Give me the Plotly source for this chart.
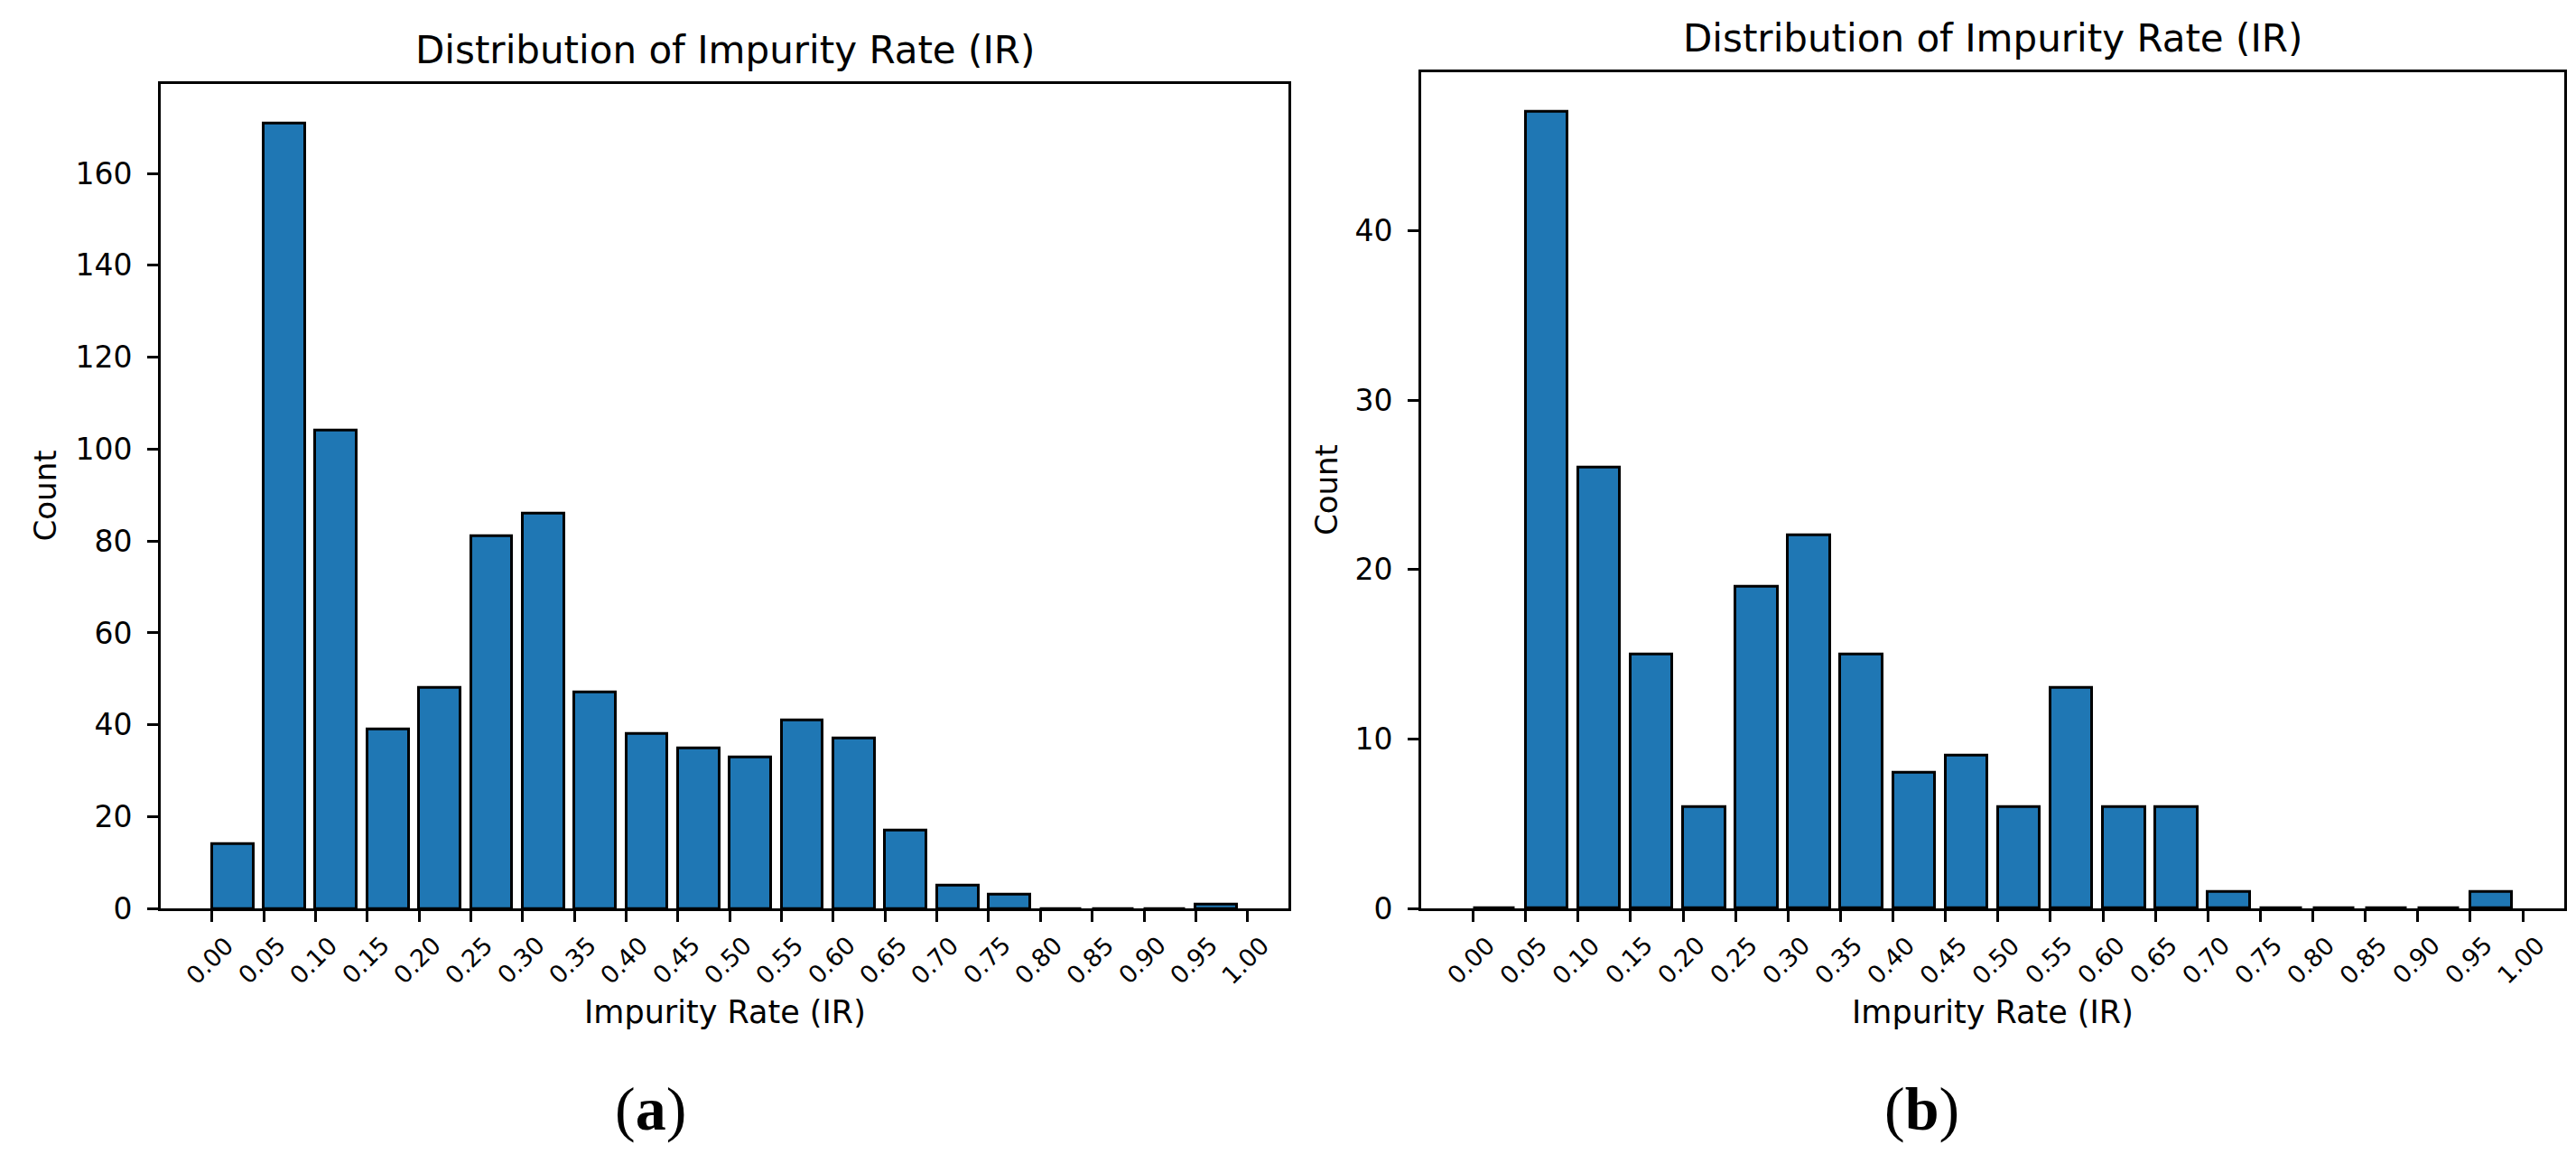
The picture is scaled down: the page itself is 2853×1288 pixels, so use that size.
import plotly.graph_objects as go

# ---------------- data ----------------
bin_left = [0.00, 0.05, 0.10, 0.15, 0.20, 0.25, 0.30, 0.35, 0.40, 0.45,
            0.50, 0.55, 0.60, 0.65, 0.70, 0.75, 0.80, 0.85, 0.90, 0.95]
counts_a = [14, 171, 104, 39, 48, 81, 86, 47, 38, 35,
            33, 41, 37, 17, 5, 3, 0, 0, 0, 1]
counts_b = [0, 47, 26, 15, 6, 19, 22, 15, 8, 9,
            6, 13, 6, 6, 1, 0, 0, 0, 0, 1]
x_tick_labels = ["0.00", "0.05", "0.10", "0.15", "0.20", "0.25", "0.30",
                 "0.35", "0.40", "0.45", "0.50", "0.55", "0.60", "0.65",
                 "0.70", "0.75", "0.80", "0.85", "0.90", "0.95", "1.00"]
y_ticks_a = [0, 20, 40, 60, 80, 100, 120, 140, 160]
y_ticks_b = [0, 10, 20, 30, 40]
title_text = "Distribution of Impurity Rate (IR)"
x_title = "Impurity Rate (IR)"
y_title = "Count"
panel_labels = ["a", "b"]

x_tick_values = [float(t) for t in x_tick_labels]

# ---------------- layout helpers ----------------
W, H = 2853, 1288
FONT = "DejaVu Sans"
BLUE = "#1f77b4"


def px_x(p):
    return p / W


def px_y(p):
    return 1 - p / H


bar_width = 0.04
xr = [-0.0495, 1.0395]

fig = go.Figure()
fig.add_trace(go.Bar(x=bin_left, y=counts_a, width=bar_width, offset=0,
                     marker=dict(color=BLUE, line=dict(color="black", width=3)),
                     xaxis="x", yaxis="y", showlegend=False))
fig.add_trace(go.Bar(x=bin_left, y=counts_b, width=bar_width, offset=0,
                     marker=dict(color=BLUE, line=dict(color="black", width=3)),
                     xaxis="x2", yaxis="y2", showlegend=False))

common_x = dict(range=xr, showline=True, mirror=True, linecolor="black",
                linewidth=2.8, ticks="outside", tickvals=x_tick_values,
                ticklen=12, tickwidth=2.8, tickcolor="black",
                showticklabels=False, showgrid=False, zeroline=False)
common_y = dict(showline=True, mirror=True, linecolor="black", linewidth=2.8,
                ticks="outside", ticklen=12, tickwidth=2.8, tickcolor="black",
                tickfont=dict(family=FONT, size=33, color="black"),
                ticklabelstandoff=10, showgrid=False, zeroline=False)

ax_a = [170, 1419]
ax_b = [1566, 2832]
bottom = 1014
top_a, top_b = 86, 73

fig.update_layout(
    width=W, height=H,
    margin=dict(l=0, r=0, t=0, b=0),
    paper_bgcolor="white", plot_bgcolor="white",
    bargap=0,
    xaxis=dict(domain=[px_x(ax_a[0]), px_x(ax_a[1])], anchor="y", **common_x),
    yaxis=dict(domain=[px_y(bottom), px_y(top_a)], anchor="x",
               range=[0, max(counts_a) * 1.05], tickvals=y_ticks_a, **common_y),
    xaxis2=dict(domain=[px_x(ax_b[0]), px_x(ax_b[1])], anchor="y2", **common_x),
    yaxis2=dict(domain=[px_y(bottom), px_y(top_b)], anchor="x2",
                range=[0, max(counts_b) * 1.05], tickvals=y_ticks_b, **common_y),
)

ann = []
for xref in ["x", "x2"]:
    for v, lab in zip(x_tick_values, x_tick_labels):
        ann.append(dict(x=v - 0.002, xref=xref, y=px_y(1038), yref="paper",
                        text=lab, textangle=-45, showarrow=False,
                        xanchor="center", yanchor="top", borderpad=0,
                        font=dict(family=FONT, size=27, color="black")))

panels = [
    dict(cx=(ax_a[0] + ax_a[1]) / 2, title_y=48, ylab_x=42,
         ylab_y=(top_a + bottom) / 2, sub_x=712),
    dict(cx=(ax_b[0] + ax_b[1]) / 2, title_y=35, ylab_x=1461,
         ylab_y=(top_b + bottom) / 2, sub_x=2120),
]
for p, lab in zip(panels, panel_labels):
    ann.append(dict(x=px_x(p["cx"]), y=px_y(p["title_y"]), xref="paper", yref="paper",
                    text=title_text, showarrow=False, xanchor="center", yanchor="middle",
                    font=dict(family=FONT, size=42, color="black")))
    ann.append(dict(x=px_x(p["cx"]), y=px_y(1131), xref="paper", yref="paper",
                    text=x_title, showarrow=False, xanchor="center", yanchor="middle",
                    font=dict(family=FONT, size=35, color="black")))
    ann.append(dict(x=px_x(p["ylab_x"]), y=px_y(p["ylab_y"]), xref="paper", yref="paper",
                    text=y_title, textangle=-90, showarrow=False,
                    xanchor="center", yanchor="middle",
                    font=dict(family=FONT, size=34, color="black")))
    ann.append(dict(x=px_x(p["sub_x"]), y=px_y(1239), xref="paper", yref="paper",
                    text="(<b>" + lab + "</b>)", showarrow=False,
                    xanchor="center", yanchor="middle",
                    font=dict(family="Liberation Serif", size=68, color="black")))

fig.update_layout(annotations=ann)
fig.write_html("out.html")
